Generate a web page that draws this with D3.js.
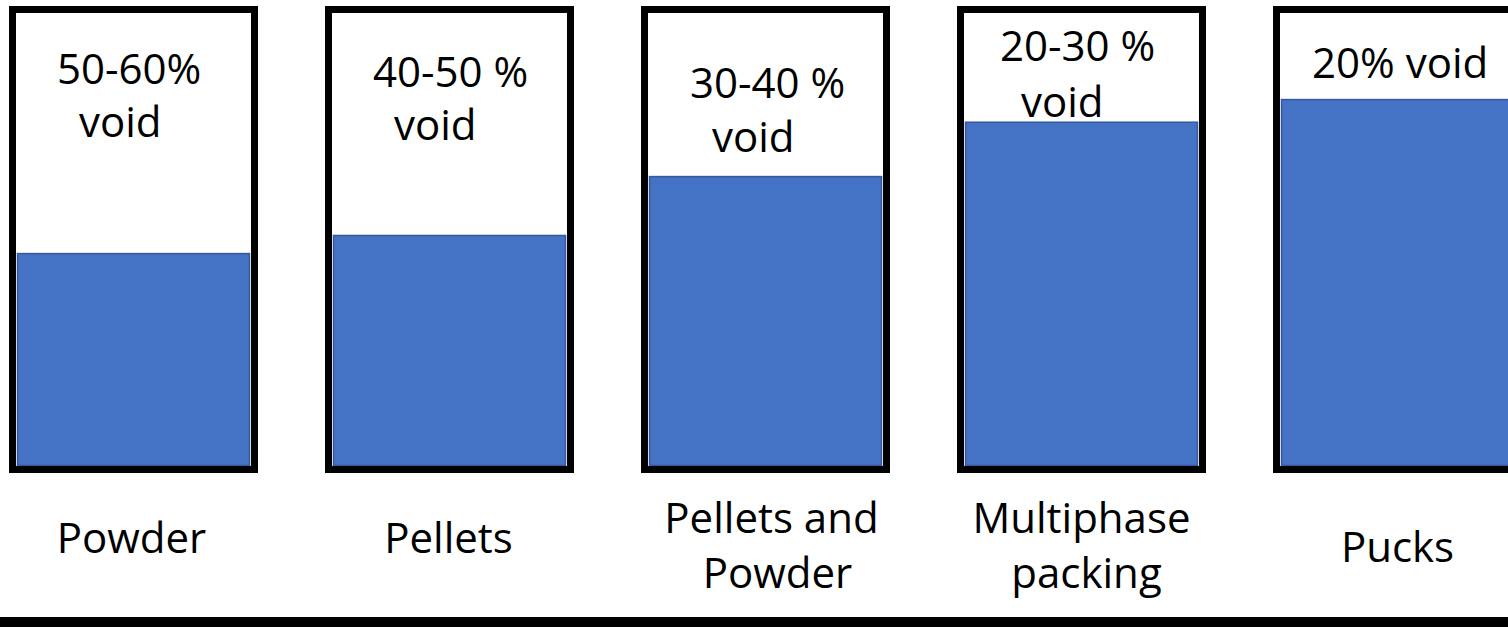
<!DOCTYPE html>
<html>
<head>
<meta charset="utf-8">
<script src="https://cdn.jsdelivr.net/npm/d3@7"></script>
<style>
  html, body { margin: 0; padding: 0; background: #ffffff; }
  svg { display: block; }
  text { font-family: "Open Sans", "Liberation Sans", sans-serif; fill: #000; }
</style>
</head>
<body>
<div id="chart"></div>
<script>
// Packing types for the container
const categories = ["Powder", "Pellets", "Pellets and Powder", "Multiphase packing", "Pucks"];
const categoryLines = [["Powder"], ["Pellets"], ["Pellets and", "Powder"], ["Multiphase", "packing"], ["Pucks"]];
// Void fraction labels shown in the empty head space
const voidLabels = [["50-60%", "void"], ["40-50 %", "void"], ["30-40 %", "void"], ["20-30 %", "void"], ["20% void"]];
// Share of the container height taken by packed material (%)
const solidFill = [47, 51, 64, 76, 81];

const W = 1508, H = 627;
const frame = 7;          // container wall thickness
const boxTop = 6, boxBottom = 473;
const fontSize = 42;

// Label placement inside each container: [x offset, baseline] per line
const voidLayout = [
  [[48, 84], [70, 137]],
  [[48, 87], [69, 140]],
  [[49, 98], [71, 152]],
  [[43, 61], [64, 117]],
  [[39, 78]]
];
// Category label placement below each container: [dx from centre, baseline] per line
const nameLayout = [
  [[-2, 553]],
  [[-1, 553]],
  [[6, 533], [12, 588]],
  [[0, 533], [5, 588]],
  [[0, 562]]
];

const svg = d3.select("#chart").append("svg")
  .attr("width", W).attr("height", H);

const x = d3.scaleBand()
  .domain(categories)
  .range([9, 1522])
  .paddingInner(67 / 316)
  .paddingOuter(0);

const innerTop = boxTop + frame, innerBottom = boxBottom - frame;
const y = d3.scaleLinear().domain([0, 100]).range([innerBottom, innerTop]);

const g = svg.selectAll("g.container")
  .data(categories.map((c, i) => ({ c, i })))
  .join("g").attr("class", "container");

// Packed material
g.append("rect")
  .attr("x", d => x(d.c) + frame + 1.5)
  .attr("width", x.bandwidth() - 2 * frame - 3)
  .attr("y", d => y(solidFill[d.i]) + 0.5)
  .attr("height", d => innerBottom - y(solidFill[d.i]) - 1)
  .attr("fill", "#4472C4")
  .attr("stroke", "#34599C")
  .attr("stroke-width", 1.5);

// Container walls
g.append("rect")
  .attr("x", d => x(d.c) + frame / 2)
  .attr("y", boxTop + frame / 2)
  .attr("width", x.bandwidth() - frame)
  .attr("height", boxBottom - boxTop - frame)
  .attr("fill", "none")
  .attr("stroke", "#000")
  .attr("stroke-width", frame);

// Void labels and category names
g.each(function(d) {
  const sel = d3.select(this);
  voidLabels[d.i].forEach((line, k) => {
    const [dx, by] = voidLayout[d.i][k];
    sel.append("text")
      .attr("x", x(d.c) + dx)
      .attr("y", by)
      .attr("font-size", fontSize)
      .text(line);
  });
  categoryLines[d.i].forEach((line, k) => {
    const [dx, by] = nameLayout[d.i][k];
    sel.append("text")
      .attr("x", x(d.c) + x.bandwidth() / 2 + dx)
      .attr("y", by)
      .attr("text-anchor", "middle")
      .attr("font-size", fontSize)
      .text(line);
  });
});

// Base line
svg.append("rect")
  .attr("x", 0).attr("y", 617)
  .attr("width", W).attr("height", 10)
  .attr("fill", "#000");
</script>
</body>
</html>
